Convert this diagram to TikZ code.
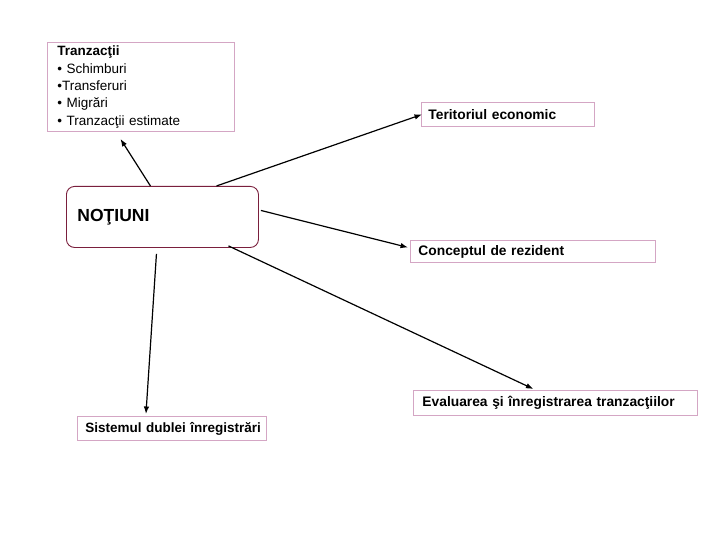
\documentclass[tikz,border=0pt]{standalone}
\usepackage{fontspec}
\setmainfont{Liberation Sans}
\usetikzlibrary{arrows.meta}
\definecolor{boxpink}{HTML}{D4A6C4}
\definecolor{maroon}{HTML}{7A1F3D}
\tikzset{
  lbox/.style={draw=boxpink, line width=0.9pt, anchor=north west, inner xsep=8pt, inner ysep=0pt,
    font=\fontsize{13.8}{16}\selectfont\bfseries, align=left},
  arr/.style={line width=1.2pt, -{Latex[length=7.5pt,width=5.5pt]}},
}
\begin{document}
\begin{tikzpicture}[x=1pt,y=-1pt]
\useasboundingbox[fill=white] (0,0) rectangle (720,540);
\node[draw=boxpink, line width=0.9pt, anchor=north west, minimum width=187pt, minimum height=89pt,
  text width=167pt, inner xsep=10pt, inner ysep=0pt, align=left,
  font=\fontsize{13.5}{17.3}\selectfont] (tranz) at (47,42)
  {\textbf{Tranzacţii}\\• Schimburi\\•Transferuri\\• Migrări\\• Tranzacţii estimate};
\node[lbox, inner xsep=7pt, minimum width=173pt, minimum height=24pt, text width=159pt] (terit) at (421,102) {\mbox{Teritoriul economic}};
\node[lbox, minimum width=245pt, minimum height=22pt, text width=229pt] (concept) at (410,240) {\mbox{Conceptul de rezident}};
\node[lbox, inner xsep=9pt, minimum width=284pt, minimum height=25pt, text width=266pt] (eval) at (413,390) {\mbox{Evaluarea şi înregistrarea tranzacţiilor}};
\node[lbox, font=\fontsize{13.5}{16}\selectfont\bfseries, minimum width=189pt, minimum height=24pt, text width=173pt] (sist) at (77,416) {\mbox{Sistemul dublei înregistrări}};
\node[draw=maroon, line width=0.9pt, rounded corners=8pt, anchor=north west, minimum width=192pt, minimum height=61pt,
  text width=170pt, inner xsep=11pt, align=left, font=\fontsize{17.5}{20}\selectfont\bfseries] (notiuni) at (66,186) {NOŢIUNI};
\draw[arr] ([xshift=-12pt]notiuni.north) -- ([xshift=-20.5pt,yshift=-7pt]tranz.south);
\draw[arr] ([xshift=54pt]notiuni.north) -- ([xshift=1pt]terit.west);
\draw[arr] ([xshift=2pt,yshift=6.5pt]notiuni.east) -- ([xshift=-2pt,yshift=4pt]concept.west);
\draw[arr] ([xshift=66pt,yshift=2pt]notiuni.south) -- ([xshift=-22pt,yshift=1pt]eval.north);
\draw[arr] ([xshift=-6pt,yshift=-6pt]notiuni.south) -- ([xshift=-26pt,yshift=2pt]sist.north);
\end{tikzpicture}
\end{document}
